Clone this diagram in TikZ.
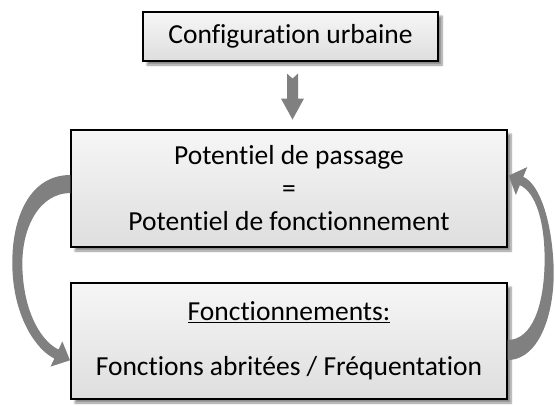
\documentclass[tikz,border=0pt]{standalone}
\usepackage{fontspec}
\setmainfont{Carlito}[Ligatures=NoCommon]
\usetikzlibrary{shadows.blur,calc}
\definecolor{arrowgray}{RGB}{128,128,128}
\definecolor{boxtop}{RGB}{246,246,246}
\definecolor{boxbottom}{RGB}{222,222,222}
\begin{document}
\begin{tikzpicture}[x=1pt,y=-1pt,
  box/.style={draw=black, line width=1.1pt, top color=boxtop, bottom color=boxbottom,
    blur shadow={shadow xshift=4pt, shadow yshift=-4pt, shadow blur steps=8, shadow opacity=45},
    inner sep=0pt, align=center, font=\fontsize{27.5}{33}\selectfont},
  blockarrow/.style={fill=arrowgray, draw=none}]
\useasboundingbox (0,0) rectangle (555,405);

% boxes
\node[box, minimum width=295pt, minimum height=49pt] (config) at (290.5,36.5) {Configuration urbaine};
\node[box, minimum width=436pt, minimum height=117pt] (potential) at (289,188.5)
  {Potentiel de passage\\=\\Potentiel de fonctionnement};
\node[box, minimum width=436pt, minimum height=116pt] (usage) at (289,341)
  {\underline{Fonctionnements:}\\[22pt]Fonctions abritées / Fréquentation};

% notched block arrow below the top box
\begin{scope}[shift={(config.south)}]
  \fill[blockarrow] (-3.5,12) -- (2,17) -- (7.5,12) -- (7.5,37) -- (13.5,37)
    -- (2,58) -- (-9.5,37) -- (-3.5,37) -- cycle;
\end{scope}

% curved arrow on the left: potential -> usage
\begin{scope}[shift={(potential.west)}]
  \fill[blockarrow] (0,-13.5) .. controls (-43,-13.5) and (-60,33.5) .. (-58,81.5)
    .. controls (-56,129.5) and (-34,161.5) .. (-16.1,170)
    -- (-19.9,178.1) -- (-0.5,171.8) -- (-8.1,152.9) -- (-11.9,161)
    .. controls (-28,153.5) and (-46,126.5) .. (-48,81.5)
    .. controls (-50,39.5) and (-31,4.5) .. (0,4.5) -- cycle;
\end{scope}

% curved arrow on the right: usage -> potential
\begin{scope}[shift={(usage.east)}]
  \fill[blockarrow] (0,19) .. controls (33,19) and (48,-31) .. (46,-76)
    .. controls (44,-121) and (32,-157) .. (15.7,-164.2)
    -- (19.7,-173.9) -- (1.1,-165.4) -- (8.3,-146.1) -- (12.3,-155.8)
    .. controls (28,-149) and (38,-119) .. (37,-76)
    .. controls (36,-36) and (25,-1) .. (0,-1) -- cycle;
\end{scope}
\end{tikzpicture}
\end{document}
